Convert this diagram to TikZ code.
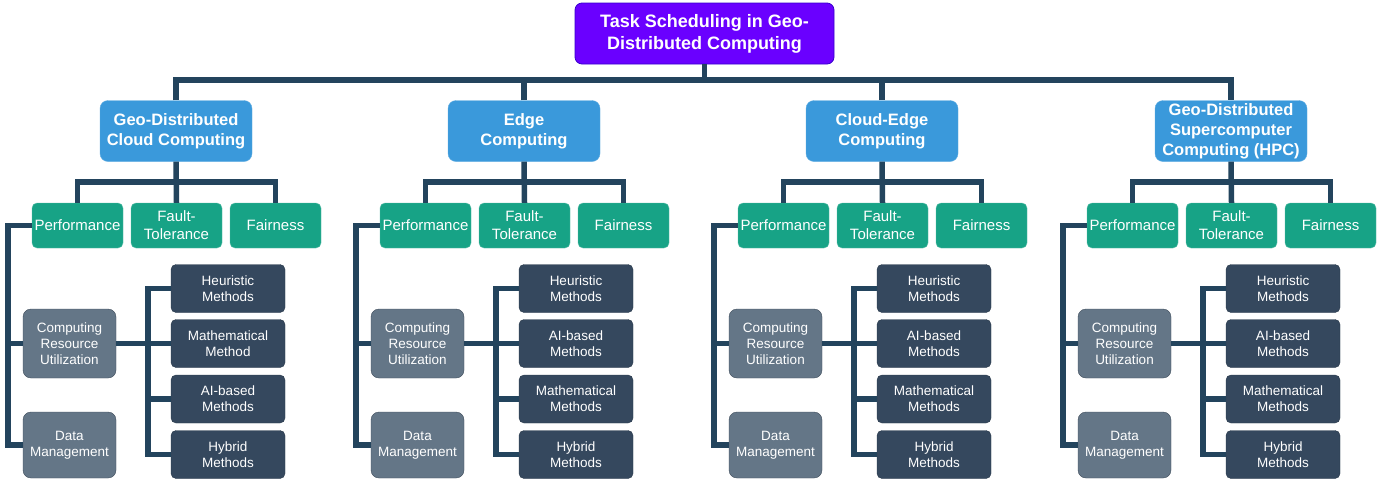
\documentclass[tikz,border=0pt]{standalone}
\usepackage{fontspec}
\setmainfont{Liberation Sans}
\usetikzlibrary{calc}

\definecolor{rootfill}{HTML}{6A00FF}
\definecolor{rootline}{HTML}{3700CC}
\definecolor{catfill}{HTML}{3A99DB}
\definecolor{greenfill}{HTML}{17A386}
\definecolor{grayfill}{HTML}{647687}
\definecolor{grayline}{HTML}{3E4C5A}
\definecolor{darkfill}{HTML}{35485E}
\definecolor{wirecol}{HTML}{23445D}

\tikzset{
  box/.style={rounded corners=7pt, inner sep=0pt, align=center, text=white},
  rootbox/.style={box, fill=rootfill, draw=rootline, line width=0.8pt,
    minimum width=259pt, minimum height=61pt,
    font=\bfseries\fontsize{18}{22}\selectfont},
  catbox/.style={box, rounded corners=8pt, fill=catfill, draw=catfill!80!white,
    minimum width=152pt, minimum height=61pt,
    font=\bfseries\fontsize{16.5}{20}\selectfont},
  critbox/.style={box, rounded corners=5pt, fill=greenfill, draw=greenfill!70!white,
    minimum width=91pt, minimum height=45pt, font=\fontsize{15}{18}\selectfont},
  aspectbox/.style={box, rounded corners=8pt, fill=grayfill, draw=grayline,
    minimum width=93pt, font=\fontsize{13.5}{16}\selectfont},
  methodbox/.style={box, rounded corners=5pt, fill=darkfill, draw=darkfill!80!black,
    minimum width=114pt, minimum height=48pt, font=\fontsize{13.5}{16}\selectfont},
  conn/.style={draw=wirecol, line width=5.5pt},
}

% One branch: category, its three criteria, and the performance sub-tree
% #1 prefix, #2 centre x, #3 category title, #4 second method, #5 third method
\newcommand{\gdsec}[5]{%
  \begin{scope}[xshift=#2pt]
    \node[catbox] (#1cat) at (0,131) {#3};
    \node[critbox] (#1perf)  at (-98.5,225.5) {Performance};
    \node[critbox] (#1fault) at (0.5,225.5) {Fault-\\Tolerance};
    \node[critbox] (#1fair)  at (99.5,225.5) {Fairness};
    \node[aspectbox, minimum height=69pt] (#1cru) at (-106.5,343.5) {Computing\\Resource\\Utilization};
    \node[aspectbox, minimum height=66pt] (#1dm)  at (-106.5,445) {Data\\Management};
    \node[methodbox] (#1ma) at (52,288.5) {Heuristic\\Methods};
    \node[methodbox] (#1mb) at (52,343.5) {#4};
    \node[methodbox] (#1mc) at (52,399) {#5};
    \node[methodbox] (#1md) at (52,454.5) {Hybrid\\Methods};
    \coordinate (#1bar) at (0,182);
    \coordinate (#1rail) at (-168,0);
    \coordinate (#1spine) at (-28,343.5);
    \draw[conn] (#1cat.south) -- (#1fault.north);
    \draw[conn] (#1perf.north) |- (#1bar) -| (#1fair.north);
    \draw[conn] (#1perf.west) -| (#1rail |- #1dm.west) -- (#1dm.west);
    \draw[conn] (#1cru.west) -- (#1rail |- #1cru.west);
    \draw[conn] (#1cru.east) -- (#1mb.west);
    \draw[conn] (#1ma.west) -| (#1spine) |- (#1md.west);
    \draw[conn] (#1spine) |- (#1mc.west);
  \end{scope}}

\begin{document}
\begin{tikzpicture}[x=1pt, y=-1pt]
  \useasboundingbox (0,0) rectangle (1382,483);
  \fill[white] (0,0) rectangle (1382,483);

  \node[rootbox] (root) at (704.5,33.5) {Task Scheduling in Geo-\\Distributed Computing};

  \gdsec{s1}{176}{Geo-Distributed\\Cloud Computing}{Mathematical\\Method}{AI-based\\Methods}
  \gdsec{s2}{524}{Edge\\Computing}{AI-based\\Methods}{Mathematical\\Methods}
  \gdsec{s3}{882}{Cloud-Edge\\Computing}{AI-based\\Methods}{Mathematical\\Methods}
  \gdsec{s4}{1231}{Geo-Distributed\\Supercomputer\\Computing (HPC)}{AI-based\\Methods}{Mathematical\\Methods}

  \coordinate (rbar) at (704.5,80);
  \draw[conn] (root.south) -- (rbar);
  \draw[conn] (s1cat.north) |- (rbar) -| (s4cat.north);
  \draw[conn] (s2cat.north) -- (s2cat.north |- rbar);
  \draw[conn] (s3cat.north) -- (s3cat.north |- rbar);
\end{tikzpicture}
\end{document}
